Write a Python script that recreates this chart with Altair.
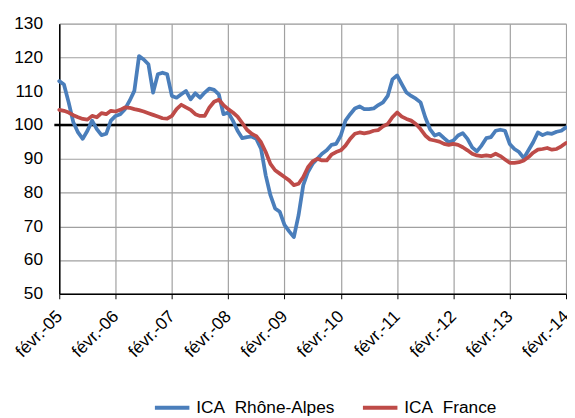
import json
import altair as alt
import pandas as pd

# month index 0 = févr.-05 ... 108 = févr.-14
tick_labels = ["févr.-05", "févr.-06", "févr.-07", "févr.-08", "févr.-09",
               "févr.-10", "févr.-11", "févr.-12", "févr.-13", "févr.-14"]
tick_months = [0, 12, 24, 36, 48, 60, 72, 84, 96, 108]
y_ticks = [50, 60, 70, 80, 90, 100, 110, 120, 130]

series_names = ["ICA\u00a0\u00a0Rhône-Alpes", "ICA\u00a0\u00a0France"]
series_colors = ["#4A7EBB", "#BE4B48"]

rhone_alpes = [113, 112, 106.7, 100.8, 97.8, 95.9, 98.3, 101.3, 98.8, 97, 97.4, 101.3,
               102.7, 103.2, 104.7, 107.2, 110.1, 120.4, 119.4, 118, 109.6, 115, 115.5, 115,
               108.6, 108.1, 109.1, 110.1, 107.6, 109.4, 108.1, 109.6, 110.8, 110.4, 109.1, 103.2,
               103.7, 101.3, 98.3, 96.1, 96.4, 96.6, 95.9, 93, 85.1, 79.2, 75.3, 74.3,
               70.4, 68.5, 66.8, 73.3, 82.2, 86.1, 88.5, 90, 91.5, 92.5, 94.1, 94.4,
               96.9, 101.3, 103.2, 104.9, 105.5, 104.7, 104.7, 104.9, 105.9, 106.7, 108.6, 113.5,
               114.7, 112.1, 109.6, 108.6, 107.8, 106.7, 102.3, 98.8, 96.9, 97.4, 96.1, 94.9,
               95.4, 96.9, 97.6, 95.9, 93.4, 92.2, 93.9, 96.1, 96.4, 98.3, 98.6, 98.3,
               94.4, 92.9, 92, 90.2, 92.5, 94.9, 97.8, 97, 97.6, 97.4, 98, 98.3, 99.3]

france = [104.5, 104.2, 103.7, 102.9, 102.3, 101.8, 101.6, 102.7, 102.3, 103.5, 103.2, 104.2,
          104, 104.5, 105.2, 105.1, 104.7, 104.4, 104, 103.5, 103, 102.5, 102, 101.9,
          102.7, 104.7, 106, 105.2, 104.5, 103.2, 102.7, 102.7, 105.2, 106.9, 107.5, 105.9,
          104.7, 103.7, 102.5, 100.6, 98.6, 97.4, 96.7, 94.9, 92, 88.5, 86.6, 85.6,
          84.6, 83.6, 82.2, 82.6, 84.6, 87.5, 89.2, 90, 89.5, 89.5, 91.2, 92,
          92.5, 93.9, 95.9, 97.4, 97.8, 97.5, 97.8, 98.3, 98.5, 99.6, 100.3, 102.3,
          103.7, 102.5, 101.8, 101.3, 100.3, 98.8, 96.9, 95.7, 95.4, 95.1, 94.4, 94.1,
          94.4, 94.1, 93.4, 92.5, 91.5, 91, 90.8, 91, 90.8, 91.5, 90.8, 89.8,
          88.8, 88.8, 89, 89.5, 90.5, 91.8, 92.7, 92.9, 93.2, 92.7, 92.9, 93.7, 94.7]

reference_level = [100]

df_ra = pd.DataFrame({"m": list(range(len(rhone_alpes))), "v": rhone_alpes, "s": series_names[0]})
df_fr = pd.DataFrame({"m": list(range(len(france))), "v": france, "s": series_names[1]})
df_ref = pd.DataFrame({"v": reference_level})

W, H = 514, 274
FONT = "Liberation Sans"
FS = 17.5

label_expr = json.dumps(tick_labels) + "[round(datum.value / 12)]"

x_enc = alt.X("m:Q", scale=alt.Scale(domain=[0, 108], nice=False, zero=False),
              axis=alt.Axis(values=tick_months, labelExpr=label_expr, title=None,
                            labelAngle=-45, labelAlign="right", labelBaseline="middle",
                            labelPadding=15, tickSize=5, tickColor="#000000",
                            domainColor="#000000", domainWidth=1.5,
                            grid=True, gridColor="#a0a0a0", gridWidth=1.2,
                            labelFontSize=FS, labelOverlap=False, labelBound=False))
y_enc = alt.Y("v:Q", scale=alt.Scale(domain=[50, 130], nice=False, zero=False),
              axis=alt.Axis(values=y_ticks, title=None, ticks=False, labelPadding=17,
                            domainColor="#000000", domainWidth=1.5,
                            grid=True, gridColor="#a0a0a0", gridWidth=1.2,
                            labelFontSize=FS, labelOverlap=False, labelBound=False,
                            labelFlush=False))

color_enc = alt.Color("s:N", scale=alt.Scale(domain=series_names, range=series_colors),
                      sort=series_names,
                      legend=alt.Legend(title=None, orient="none", direction="horizontal",
                                        legendX=95, legendY=370, columns=2,
                                        symbolType="stroke", symbolSize=1225,
                                        symbolStrokeWidth=4, labelFontSize=FS,
                                        labelOffset=5, columnPadding=20, labelLimit=300))

rule = alt.Chart(df_ref).mark_rule(color="#000000", strokeWidth=2.5).encode(
    y=y_enc, x=alt.value(-5), x2=alt.value(W))

base_line = dict(strokeWidth=3.8, strokeJoin="round", strokeCap="round")
line_ra = alt.Chart(df_ra).mark_line(**base_line).encode(x=x_enc, y=y_enc, color=color_enc)
line_fr = alt.Chart(df_fr).mark_line(**base_line).encode(x=x_enc, y=y_enc, color=color_enc)

chart = alt.layer(rule, line_ra, line_fr).properties(
    width=W, height=H,
    autosize=alt.AutoSizeParams(type="none"),
    padding={"left": 52, "top": 13, "right": 1, "bottom": 123},
).configure_view(stroke=None).configure_axis(
    labelFont=FONT, labelColor="#1a1a1a"
).configure_legend(labelFont=FONT, labelColor="#1a1a1a").configure(background="white")

chart.save("out.html", embed_options={"renderer": "svg", "actions": False})
